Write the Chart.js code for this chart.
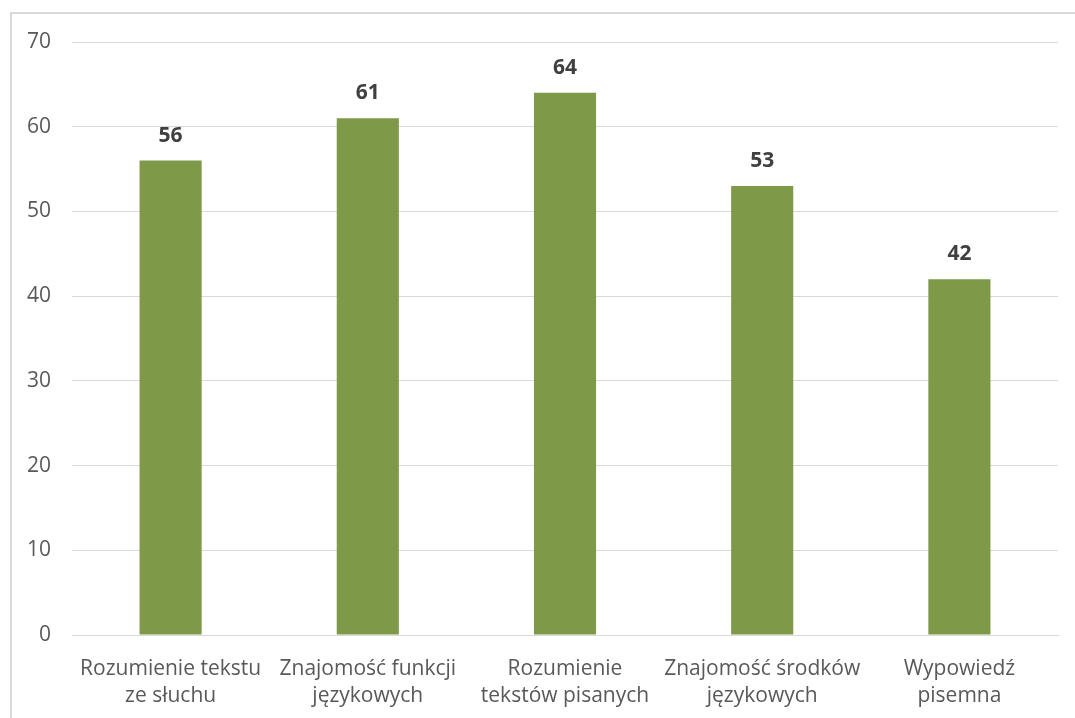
<!DOCTYPE html>
<html>
<head>
<meta charset="utf-8">
<script src="https://cdn.jsdelivr.net/npm/chart.js@4"></script>
<style>
    html, body { margin: 0; padding: 0; background: #fff; overflow: hidden; }
    .frame { position: absolute; left: 10px; top: 12px; width: 1100px; height: 760px; border: 2px solid #d9d9d9; box-sizing: border-box; }
    .wrap { position: absolute; left: 0; top: 0; width: 1075px; height: 718px; }
</style>
</head>
<body>
<div class="frame"></div>
<div class="wrap"><canvas id="chart"></canvas></div>
<script>
const categories = [
    ['Rozumienie tekstu', 'ze słuchu'],
    ['Znajomość funkcji', 'językowych'],
    ['Rozumienie', 'tekstów pisanych'],
    ['Znajomość środków', 'językowych'],
    ['Wypowiedź', 'pisemna']
];
const values = [56, 61, 64, 53, 42];
const yTicks = [0, 10, 20, 30, 40, 50, 60, 70];

const font = '"Open Sans", "Noto Sans", sans-serif';

// labels above bars
const valueLabels = {
    id: 'valueLabels',
    afterDatasetsDraw(chart) {
        const ctx = chart.ctx;
        ctx.save();
        ctx.font = 'bold 21px ' + font;
        ctx.fillStyle = '#404040';
        ctx.textAlign = 'center';
        ctx.textBaseline = 'alphabetic';
        chart.getDatasetMeta(0).data.forEach(function(bar, i) {
            ctx.fillText(values[i], bar.x, bar.y - 19);
        });
        ctx.restore();
    }
};

new Chart(document.getElementById('chart').getContext('2d'), {
    type: 'bar',
    data: {
        labels: categories,
        datasets: [{
            data: values,
            backgroundColor: '#7E9A48',
            barPercentage: 1,
            categoryPercentage: 0.315
        }]
    },
    options: {
        responsive: true,
        maintainAspectRatio: false,
        animation: false,
        layout: { padding: { top: 42, right: 17, bottom: 0, left: 0 } },
        plugins: {
            legend: { display: false },
            tooltip: { enabled: false }
        },
        scales: {
            x: {
                grid: { display: false, drawTicks: false },
                border: { display: true, color: '#d9d9d9', width: 1 },
                ticks: { color: '#595959', font: { family: font, size: 21, lineHeight: 1.29 }, padding: 20, maxRotation: 0, autoSkip: false },
                afterFit(scale) { scale.height = 83; }
            },
            y: {
                min: 0,
                max: 70,
                afterBuildTicks(scale) { scale.ticks = yTicks.map(v => ({ value: v })); },
                grid: { color: '#d9d9d9', lineWidth: 1, drawTicks: false },
                border: { display: false },
                ticks: { color: '#595959', font: { family: font, size: 21 }, padding: 21 },
                afterFit(scale) { scale.width = 72; }
            }
        }
    },
    plugins: [valueLabels]
});
</script>
</body>
</html>
